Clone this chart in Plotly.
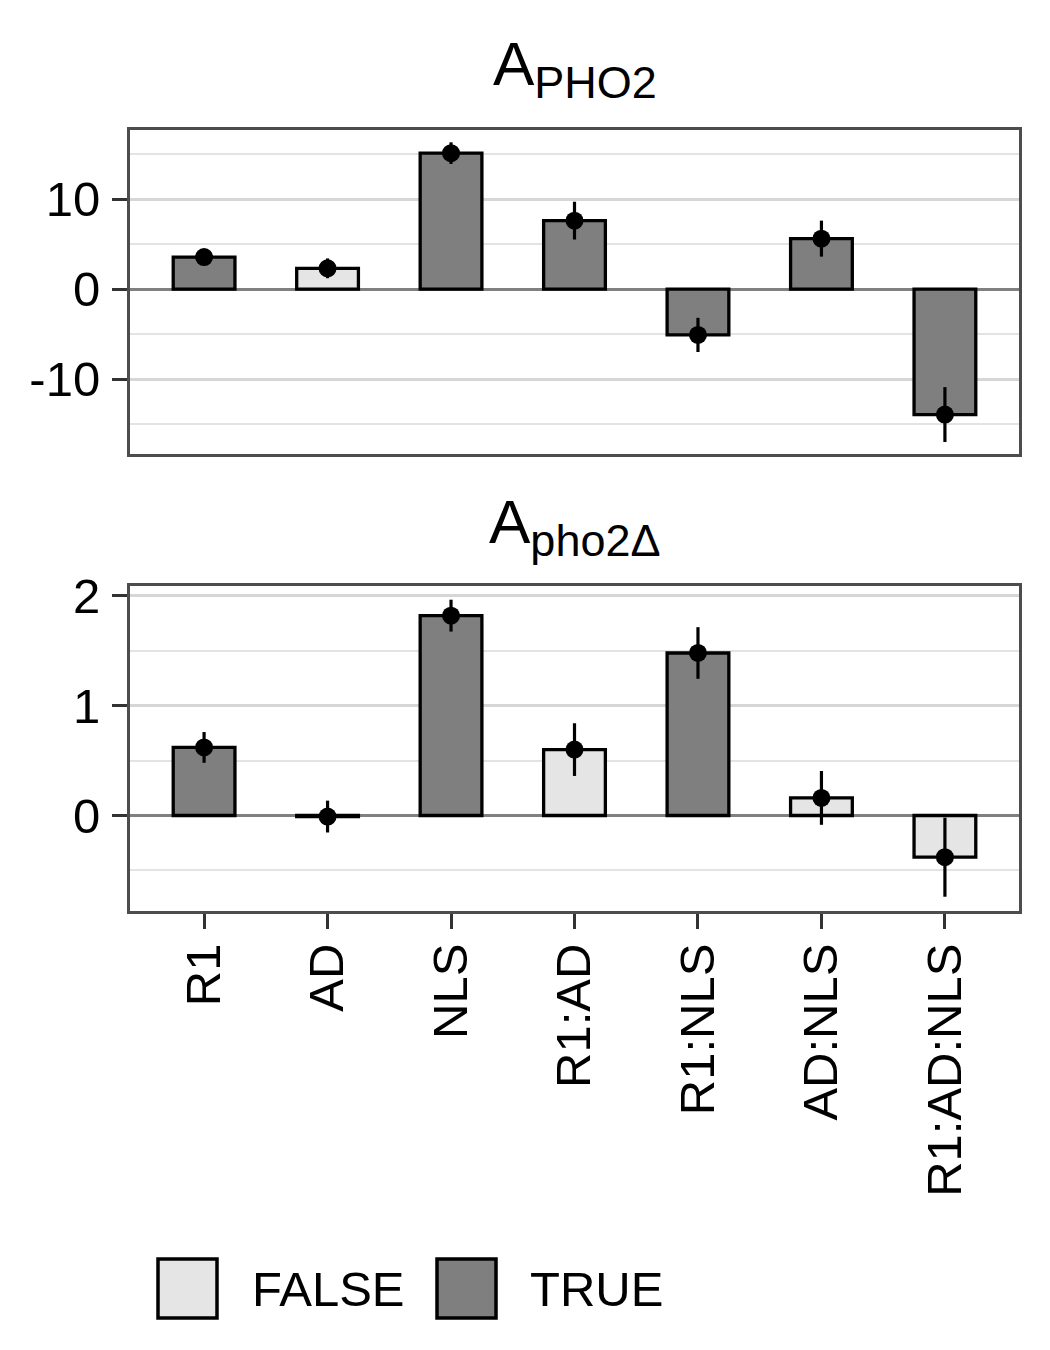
import plotly.graph_objects as go
from plotly.subplots import make_subplots

# ---------------- data ----------------
categories = ["R1", "AD", "NLS", "R1:AD", "R1:NLS", "AD:NLS", "R1:AD:NLS"]

pho2_estimate = [3.55, 2.3, 15.1, 7.6, -5.1, 5.6, -13.95]
pho2_error = [0.8, 1.1, 1.2, 2.1, 1.9, 2.0, 3.05]
pho2_signif = [True, False, True, True, True, True, True]

del_estimate = [0.62, -0.01, 1.82, 0.60, 1.48, 0.16, -0.38]
del_error = [0.14, 0.145, 0.145, 0.24, 0.235, 0.245, 0.36]
del_signif = [True, False, True, False, True, False, False]

legend_labels = ["FALSE", "TRUE"]
panel_titles = [
    "A<sub><span style='font-size:45px'>PHO2</span></sub>",
    "A<sub><span style='font-size:45px'>pho2Δ</span></sub>",
]

# ---------------- style ----------------
W, H = 1050, 1350
L, R, T, B = 130, 1019, 130, 911
FILL = {False: "#e5e5e5", True: "#7f7f7f"}
FONT = "Liberation Sans, Arial, Helvetica, sans-serif"
TICK_SIZE = 49


def px_x(x):
    return (x - L) / (R - L)


def px_y(y):
    return (B - y) / (B - T)


top_dom = [px_y(454), 1.0]
bot_dom = [0.0, px_y(586)]

fig = make_subplots(rows=2, cols=1, shared_xaxes=False, vertical_spacing=0.05)

panels = [
    (pho2_estimate, pho2_error, pho2_signif, 1),
    (del_estimate, del_error, del_signif, 2),
]
for est, err, sig, row in panels:
    fig.add_trace(
        go.Bar(
            x=categories,
            y=est,
            width=0.5,
            marker=dict(color=[FILL[s] for s in sig], line=dict(color="black", width=3.3)),
            showlegend=False,
            hoverinfo="skip",
        ),
        row=row,
        col=1,
    )
    fig.add_trace(
        go.Scatter(
            x=categories,
            y=est,
            mode="markers",
            marker=dict(color="black", size=18, symbol="circle"),
            error_y=dict(type="data", array=err, visible=True, width=0, thickness=3.2, color="black"),
            showlegend=False,
            hoverinfo="skip",
        ),
        row=row,
        col=1,
    )

axis_common = dict(
    showline=True,
    linecolor="#4d4d4d",
    linewidth=3,
    mirror=True,
)

fig.update_layout(
    width=W,
    height=H,
    margin=dict(l=L, r=W - R, t=T, b=H - B),
    plot_bgcolor="white",
    paper_bgcolor="white",
    font=dict(family=FONT, size=TICK_SIZE, color="black"),
    showlegend=False,
    bargap=0.5,
)

fig.update_xaxes(
    **axis_common,
    type="category",
    range=[-0.6, 6.6],
    showgrid=False,
    zeroline=False,
)
fig.update_xaxes(showticklabels=False, ticks="", row=1, col=1)
fig.update_xaxes(
    ticks="outside",
    ticklen=15,
    tickwidth=3,
    tickcolor="#333333",
    tickangle=-90,
    tickfont=dict(family=FONT, size=TICK_SIZE, color="black"),
    ticklabelstandoff=-5,
    row=2,
    col=1,
)

fig.update_yaxes(
    **axis_common,
    ticks="outside",
    ticklen=15,
    tickwidth=3,
    tickcolor="#333333",
    tickfont=dict(family=FONT, size=TICK_SIZE, color="black"),
    ticklabelstandoff=2,
    showgrid=True,
    gridcolor="#d6d6d6",
    gridwidth=3,
    zeroline=True,
    zerolinecolor="#808080",
    zerolinewidth=3,
)
fig.update_yaxes(
    range=[-18.33, 17.67],
    tickvals=[-10, 0, 10],
    ticktext=["-10", "0", "10"],
    minor=dict(tickvals=[-15, -5, 5, 15], showgrid=True, gridcolor="#e3e3e3", gridwidth=1.5, ticks=""),
    domain=top_dom,
    row=1,
    col=1,
)
fig.update_yaxes(
    range=[-0.87, 2.09],
    tickvals=[0, 1, 2],
    ticktext=["0", "1", "2"],
    minor=dict(tickvals=[-0.5, 0.5, 1.5], showgrid=True, gridcolor="#e3e3e3", gridwidth=1.5, ticks=""),
    domain=bot_dom,
    row=2,
    col=1,
)

# panel titles
for title, ypix in zip(panel_titles, [69, 526]):
    fig.add_annotation(
        text=title,
        xref="paper",
        yref="paper",
        x=0.5,
        y=px_y(ypix),
        xanchor="center",
        yanchor="middle",
        showarrow=False,
        font=dict(family=FONT, size=62, color="black"),
    )

# legend (keys drawn as shapes, labels as text)
legend_keys = [(158, 217), (437, 496)]
legend_text_x = [250, 528]
for lab, (x0, x1), tx in zip(legend_labels, legend_keys, legend_text_x):
    fig.add_shape(
        type="rect",
        xref="paper",
        yref="paper",
        x0=px_x(x0),
        x1=px_x(x1),
        y0=px_y(1259),
        y1=px_y(1318),
        fillcolor=FILL[lab == "TRUE"],
        line=dict(color="black", width=3.5),
    )
    fig.add_annotation(
        text=lab,
        xref="paper",
        yref="paper",
        x=px_x(tx),
        y=px_y(1289),
        xanchor="left",
        yanchor="middle",
        showarrow=False,
        font=dict(family=FONT, size=TICK_SIZE, color="black"),
    )

fig.write_html("out.html")
